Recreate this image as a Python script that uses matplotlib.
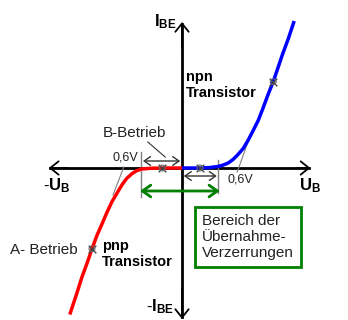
import matplotlib
matplotlib.use("Agg")
import matplotlib.pyplot as plt

plt.rcParams['font.family'] = ['Liberation Sans', 'DejaVu Sans']
plt.rcParams['mathtext.fontset'] = 'custom'
plt.rcParams['mathtext.rm'] = 'Liberation Sans'
plt.rcParams['mathtext.bf'] = 'Liberation Sans:bold'

# Kennlinien (U in V, I in willkuerlichen Einheiten)
npn_u = [0.0, 0.3, 0.45, 0.6, 0.68, 0.77, 0.85, 0.93, 1.02, 1.1, 1.18, 1.27,
         1.35, 1.43, 1.52, 1.6, 1.68, 1.77, 1.87]
npn_i = [0.0, 0.0, 0.04, 0.15, 0.28, 0.5, 0.85, 1.33, 1.95, 2.75, 3.68, 4.75,
         5.98, 7.28, 8.63, 10.03, 11.45, 12.9, 14.7]
pnp_u = [0.0, -0.3, -0.5, -0.67, -0.75, -0.83, -0.92, -1.0, -1.08, -1.17, -1.25,
         -1.33, -1.42, -1.5, -1.58, -1.67, -1.75, -1.87]
pnp_i = [0.0, 0.0, -0.02, -0.1, -0.25, -0.55, -1.03, -1.68, -2.48, -3.4, -4.43,
         -5.55, -6.78, -8.08, -9.48, -10.95, -12.48, -14.65]

# Arbeitspunkte (Kreuz-Marker)
ap_u = [-0.33, 0.3, 1.52, -1.5]
ap_i = [0.0, 0.0, 8.63, -8.08]

# Schwellspannungen
u_left = -0.68
u_right = 0.6

fig = plt.figure(figsize=(3.48, 3.2), dpi=100)
ax = fig.add_axes([0, 0, 1, 1])
ax.set_xlim(-182 / 60, 166 / 60)
ax.set_ylim(-15.2, 16.8)
ax.axis('off')

# Achsen mit offenen Pfeilspitzen
head = dict(arrowstyle='->,head_length=0.5,head_width=0.4', lw=1.3, color='black',
            mutation_scale=12, shrinkA=0, shrinkB=0)
ax.plot([-2.2, 2.12], [0, 0], color='black', lw=2, zorder=1)
ax.plot([0, 0], [-14.9, 14.4], color='black', lw=2, zorder=1)
ax.annotate('', xy=(2.14, 0), xytext=(1.9, 0), arrowprops=head)
ax.annotate('', xy=(-2.22, 0), xytext=(-1.9, 0), arrowprops=head)
ax.annotate('', xy=(0, 14.6), xytext=(0, 12), arrowprops=head)
ax.annotate('', xy=(0, -15.1), xytext=(0, -12), arrowprops=head)

# Kennlinien
ax.plot(pnp_u, pnp_i, color='#ff0000', lw=2.5, zorder=3, solid_capstyle='butt')
ax.plot(npn_u, npn_i, color='#0000ff', lw=2.5, zorder=3, solid_capstyle='butt')

# Hilfslinien bei 0,6 V
ax.plot([u_left, u_left], [1.6, -2.9], color='gray', lw=1, zorder=2)
ax.plot([u_right, u_right], [0.8, -2.5], color='gray', lw=1, zorder=2)

# Doppelpfeile
small = dict(arrowstyle='<->,head_length=0.5,head_width=0.35', lw=1, color='#333333',
             mutation_scale=9, shrinkA=0, shrinkB=0)
ax.annotate('', xy=(-0.03, 0.7), xytext=(-0.65, 0.7), arrowprops=small)
ax.annotate('', xy=(0.58, -0.8), xytext=(0.03, -0.8), arrowprops=small)
ax.annotate('', xy=(0.63, -2.3), xytext=(-0.7, -2.3),
            arrowprops=dict(arrowstyle='<->,head_length=0.5,head_width=0.35', lw=2,
                            color='#008000', mutation_scale=12, shrinkA=0, shrinkB=0))

# Marker
ax.scatter(ap_u, ap_i, marker='x', s=30, color='#444444', lw=1, zorder=4)
ax.scatter(ap_u, ap_i, marker='o', s=18, facecolor='none', edgecolor='#666666', lw=0.8, zorder=4)

# Zeigerlinien
ax.plot([-0.57, -0.28], [2.6, 1.1], color='#333333', lw=0.8)
ax.plot([-0.97, -1.15], [0.1, -2.7], color='gray', lw=0.8)
ax.plot([1.13, 0.92], [3.1, -0.4], color='gray', lw=0.8)

# Beschriftung
ax.text(-0.28, 14.6, r'$\mathbf{I_{BE}}$', fontsize=12, ha='center', va='center')
ax.text(-0.37, -13.9, r'-$\mathbf{I_{BE}}$', fontsize=12, ha='center', va='center')
ax.text(-2.08, -1.8, r'-$\mathbf{U_{B}}$', fontsize=12, ha='center', va='center')
ax.text(2.13, -1.8, r'$\mathbf{U_{B}}$', fontsize=12, ha='center', va='center')

ax.text(0.07, 9.8, 'npn\nTransistor', fontsize=10.5, fontweight='bold',
        ha='left', va='top', linespacing=1.15)
ax.text(-1.33, -7.1, 'pnp\nTransistor', fontsize=10.5, fontweight='bold',
        ha='left', va='top', linespacing=1.15)

ax.text(-2.87, -8.2, 'A- Betrieb', fontsize=11, color='#222222', ha='left', va='center')
ax.text(-1.32, 3.5, 'B-Betrieb', fontsize=11, color='#222222', ha='left', va='center')
ax.text(-0.95, 1.0, '0,6V', fontsize=9, color='#222222', ha='center', va='center')
ax.text(0.97, -1.1, '0,6V', fontsize=9, color='#222222', ha='center', va='center')

ax.text(0.33, -4.6, 'Bereich der\n\u00dcbernahme-\nVerzerrungen', fontsize=11,
        color='#222222', ha='left', va='top', linespacing=1.2,
        bbox=dict(boxstyle='square,pad=0.45', facecolor='white', edgecolor='#008000', lw=2))

fig.savefig('out.png', dpi=100)
